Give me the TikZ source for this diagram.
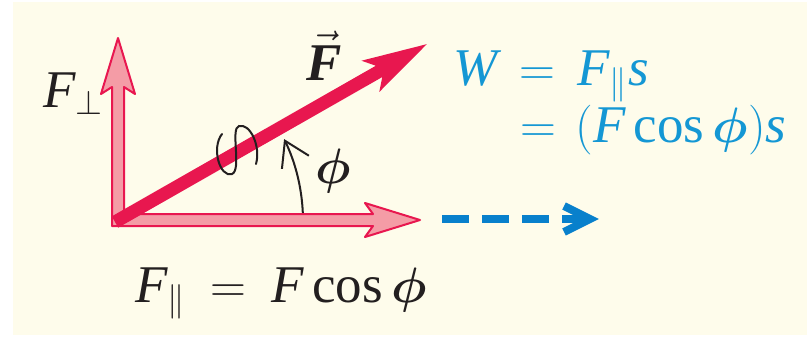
\documentclass[tikz,border=0pt]{standalone}
\usepackage{bm}
\usepackage{fontspec}
\setmainfont{Liberation Serif}
\usetikzlibrary{arrows.meta}
\definecolor{bg}{HTML}{FEFCEB}
\definecolor{fred}{HTML}{E8174F}
\definecolor{fpink}{HTML}{F49CA6}
\definecolor{wblue}{HTML}{1497D4}
\definecolor{dblue}{HTML}{0880CC}
\definecolor{ink}{HTML}{231F20}
\newcommand{\myF}{\mbox{\itshape F}}
\newcommand{\myW}{\mbox{\itshape W}}
\newcommand{\mys}{\mbox{\itshape s}}
\newcommand{\mycos}{\mbox{cos}}
\newcommand{\myphi}{\bm{\phi}}
\begin{document}
\begin{tikzpicture}[x=0.5pt,y=-0.5pt,
  lbl/.style={inner sep=0pt, anchor=base west, font=\fontsize{26.5}{32}\selectfont, text=ink},
  bluelbl/.style={lbl, text=wblue},
  comp/.style={fill=fpink, draw=fred, line width=1pt, line join=round},
  vecF/.style={fill=fred},
  anglearc/.style={draw=ink, line width=1pt, -{Straight Barb[length=12pt,width=15pt,line width=1pt]}},
  coil/.style={draw=ink, line width=1pt, line cap=round},
  workdash/.style={draw=dblue, line width=4pt, dash pattern=on 13.5pt off 6.5pt},
  workhead/.style={draw=dblue, line width=4pt, line join=miter}]
\useasboundingbox (0,0) rectangle (809,337);
\fill[white] (0,0) rectangle (809,337);
\fill[bg] (13,2) rectangle (807,335);
% origin of the vectors
\coordinate (O) at (116,221);
\coordinate (F0) at (115,222);
% components (one L-shaped outline)
\draw[comp] (112,226) -- (112,87) -- (101,94) -- (118,38) -- (135,94) -- (124,87)
  -- (124,214) -- (373,214) -- (365,203) -- (420,220) -- (365,237) -- (373,226) -- cycle;
% vector F
\begin{scope}[shift={(F0)}, rotate=29.7]
  \fill[vecF] (0,-6.5) -- (304,-6.5) -- (294,-18) -- (359,0) -- (294,18) -- (304,6.5) -- (0,6.5) -- cycle;
\end{scope}
% angle arc
\draw[anglearc] (O) ++(-2.5:187) arc[start angle=-2.5, end angle=-26, radius=187];
% coil symbol
\draw[coil] (222,134) .. controls (211,148) and (220,178) .. (232,174)
  .. controls (242,170) and (230,128) .. (239,126)
  .. controls (250,123) and (261,146) .. (256,164);
% work displacement arrow
\coordinate (D0) at (442,219);
\coordinate (D1) at (585,219);
\coordinate (Dt) at (590,219);
\draw[workdash] (D0) -- (D1);
\draw[workhead] (564,206) -- (Dt) -- (564,232);
% labels
\node[lbl] (Fperp) at (43,107) {\myF$_{\perp}$};
\node[lbl] (Fvec) at (306,80) {$\vec{\mbox{\bfseries\itshape F}}$};
\node[lbl] (phi) at (315,183) {$\myphi$};
\node[lbl] (Fpar) at (135,302) {$\myF_{\parallel}\mskip4mu=\mskip4mu\myF\,\mycos\,\myphi$};
\node[bluelbl] (W1) at (453,85) {$\myW\mskip3mu=\mskip3mu\myF_{\parallel}\mys$};
\node[bluelbl] (W2) at (520,142) {$=\mskip2mu(\myF\,\mycos\,\myphi)\mys$};
\end{tikzpicture}
\end{document}
